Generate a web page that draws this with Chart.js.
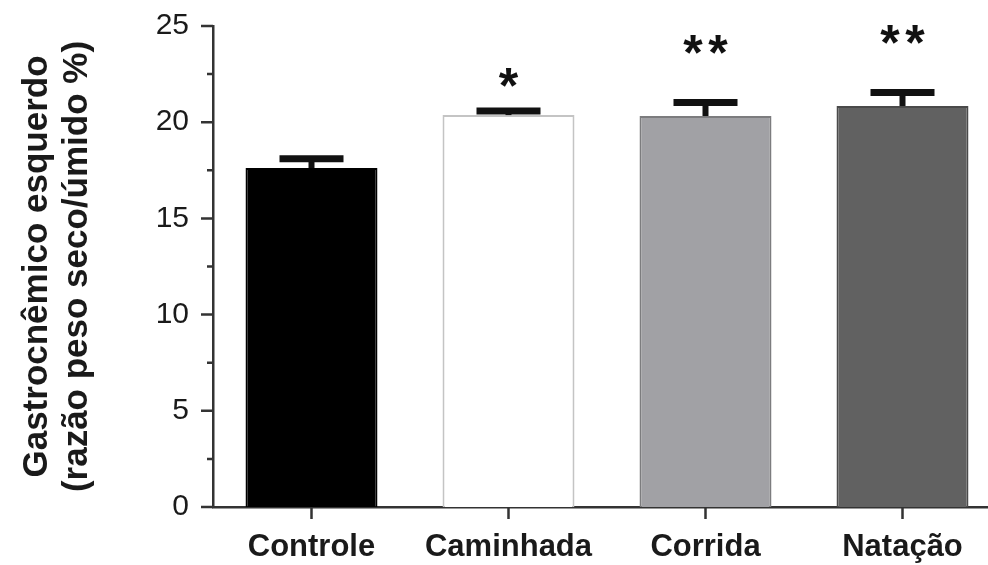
<!DOCTYPE html>
<html>
<head>
<meta charset="utf-8">
<script src="https://cdn.jsdelivr.net/npm/chart.js@4.4.0/dist/chart.umd.min.js"></script>
<style>
html, body { margin: 0; padding: 0; background: #fff; overflow: hidden; }
</style>
</head>
<body>
<canvas id="graphCanvas" width="1010" height="565"></canvas>
<script>
var grupos = ['Controle', 'Caminhada', 'Corrida', 'Natação'];
var medias = [17.62, 20.37, 20.32, 20.84];
var erros = [0.48, 0.21, 0.71, 0.71];
var signif = ['', '*', '**', '**'];
var signifY = [null, 22.45, 24.16, 24.68];
var yTicks = [0, 5, 10, 15, 20, 25];
var yMinor = [2.5, 7.5, 12.5, 17.5, 22.5];

var fonte = '"Liberation Sans", Arial, sans-serif';
var corEixo = '#333333';

// error bars, asterisks and the axis tick marks
var extras = {
    id: 'extras',
    afterDatasetsDraw: function (chart) {
        var ctx = chart.ctx, x = chart.scales.x, y = chart.scales.y;
        ctx.save();
        ctx.strokeStyle = '#111111';
        ctx.fillStyle = '#111111';
        for (var i = 0; i < grupos.length; i++) {
            var cx = x.getPixelForValue(i);
            var yTopo = y.getPixelForValue(medias[i]);
            var yErro = y.getPixelForValue(medias[i] + erros[i]);
            ctx.lineWidth = 6;
            ctx.beginPath(); ctx.moveTo(cx, yTopo); ctx.lineTo(cx, yErro); ctx.stroke();
            ctx.lineWidth = 7;
            ctx.beginPath(); ctx.moveTo(cx - 32, yErro); ctx.lineTo(cx + 32, yErro); ctx.stroke();

            if (signif[i]) {
                var n = signif[i].length;
                var sy = y.getPixelForValue(signifY[i]);
                ctx.font = 'bold 50px ' + fonte;
                ctx.textAlign = 'center';
                ctx.textBaseline = 'alphabetic';
                for (var k = 0; k < n; k++) {
                    ctx.fillText('*', cx + (k - (n - 1) / 2) * 25, sy + 0.56 * 50);
                }
            }
        }
        ctx.restore();
    },
    afterDraw: function (chart) {
        var ctx = chart.ctx, x = chart.scales.x, y = chart.scales.y;
        var area = chart.chartArea;
        ctx.save();
        ctx.strokeStyle = corEixo;
        ctx.lineWidth = 2.5;
        ctx.beginPath();
        yTicks.forEach(function (v) {
            var py = y.getPixelForValue(v);
            ctx.moveTo(area.left - 12, py); ctx.lineTo(area.left, py);
        });
        yMinor.forEach(function (v) {
            var py = y.getPixelForValue(v);
            ctx.moveTo(area.left - 6, py); ctx.lineTo(area.left, py);
        });
        for (var i = 0; i < grupos.length; i++) {
            var px = x.getPixelForValue(i);
            ctx.moveTo(px, area.bottom); ctx.lineTo(px, area.bottom + 12);
        }
        ctx.stroke();
        ctx.restore();
    }
};

var chartdata = {
    labels: grupos,
    datasets: [
        {
            label: 'Gastrocnêmico esquerdo',
            data: medias,
            backgroundColor: ['#000000', '#ffffff', '#a1a1a5', '#616161'],
            borderColor: ['#000000', '#c4c4c4', '#7c7c7e', '#4a4a4a'],
            borderWidth: 2,
            barPercentage: 0.67,
            categoryPercentage: 1
        }
    ]
};

var barGraph = new Chart(document.getElementById('graphCanvas'), {
    type: 'bar',
    data: chartdata,
    plugins: [extras],
    options: {
        responsive: false,
        animation: false,
        devicePixelRatio: 1,
        layout: { padding: { top: 26, right: 9, left: 0, bottom: 0 } },
        plugins: {
            legend: { display: false },
            tooltip: { enabled: false }
        },
        scales: {
            x: {
                grid: { display: false },
                border: { display: true, color: corEixo, width: 2.5 },
                ticks: {
                    color: '#1a1a1a',
                    padding: 14,
                    font: { family: fonte, size: 31, weight: 'bold' }
                },
                afterFit: function (scale) { scale.height = 58; }
            },
            y: {
                min: 0,
                max: 25,
                grid: { display: false },
                border: { display: true, color: corEixo, width: 2.5 },
                ticks: {
                    stepSize: 5,
                    color: '#1a1a1a',
                    padding: 16,
                    font: { family: fonte, size: 30 }
                },
                title: {
                    display: true,
                    text: ['Gastrocnêmico esquerdo', '(razão peso seco/úmido %)'],
                    color: '#1a1a1a',
                    padding: { top: 17, bottom: 0 },
                    font: { family: fonte, size: 35, weight: 'bold', lineHeight: 1.14 }
                },
                afterFit: function (scale) {
                    scale.width = 213;
                    scale.paddingTop = 0;
                    scale.paddingBottom = 0;
                }
            }
        }
    }
});
</script>
</body>
</html>
